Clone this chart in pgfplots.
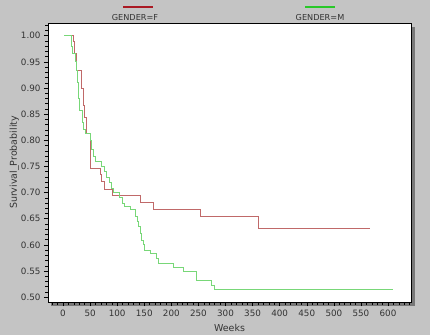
\documentclass[border=0pt]{standalone}
\usepackage{pgfplots}
\pgfplotsset{compat=1.18}
\usepackage{fontspec}
\setmainfont{DejaVu Sans}
\definecolor{bggray}{RGB}{196,196,196}
\definecolor{shadowgray}{RGB}{120,120,120}
\definecolor{fred}{RGB}{192,105,105}
\definecolor{mgreen}{RGB}{120,215,120}
\definecolor{legred}{RGB}{170,25,35}
\definecolor{leggreen}{RGB}{40,200,40}
\pgfplotstableread{
w v
3 1.0
19 0.989
21 0.967
24 0.933
34 0.900
37 0.867
40 0.843
43 0.813
51 0.746
69.5 0.734
71 0.721
76 0.706
91 0.694
142 0.681
167 0.667
254 0.654
361 0.632
567 0.632
}\dataF
\pgfplotstableread{
w v
2 1.0
15 0.98
18 0.967
22 0.95
24 0.933
27 0.91
29 0.88
31 0.858
35 0.835
38 0.82
42 0.813
50 0.80
53 0.782
56 0.77
59 0.759
70 0.75
76 0.74
81 0.73
85 0.72
90 0.708
93 0.70
105 0.69
110 0.68
114 0.673
124 0.667
133 0.654
137 0.645
139 0.635
142 0.622
145 0.609
148 0.60
151 0.59
161 0.583
173 0.574
176 0.565
204 0.557
222 0.549
247 0.532
274 0.523
279 0.514
610 0.514
}\dataM
\begin{document}
\begin{tikzpicture}[x=1bp,y=1bp]
\fill[bggray] (0,0) rectangle (430,335);
\fill[shadowgray] (51,29) rectangle (415,308);
\begin{axis}[
  at={(48bp,33bp)}, anchor=south west,
  scale only axis, width=363bp, height=279bp,
  xmin=-27.7, xmax=642.4, ymin=0.4908, ymax=1.0243,
  axis background/.style={fill=white},
  axis line style={black, line width=0.6bp},
  xtick={0,50,...,600},
  minor xtick={-20,-10,...,640},
  ytick={0.50,0.55,...,1.00},
  minor ytick={0.49,0.50,...,1.02},
  xtick pos=bottom, ytick pos=left,
  tick align=outside,
  major tick length=4bp, minor tick length=2.5bp,
  tick style={black, line width=0.5bp},
  /pgf/number format/assume math mode=true,
  yticklabel style={/pgf/number format/.cd, fixed, fixed zerofill, precision=2},
  xticklabel style={/pgf/number format/.cd, fixed, precision=0},
  ticklabel style={font=\fontsize{8.8}{10}\selectfont, text=black!80},
  xlabel={Weeks}, ylabel={Survival\_Probability},
  label style={font=\fontsize{9.5}{11}\selectfont, text=black!80},
  xlabel style={yshift=-1bp},
  ylabel style={yshift=-5bp},
]
\addplot[const plot, fred, line width=0.8bp, mark=none] table[x=w,y=v] {\dataF};
\addplot[const plot, mgreen, line width=0.8bp, mark=none] table[x=w,y=v] {\dataM};
\end{axis}
\draw[legred, line width=2bp] (123,328) -- (153,328);
\node[font=\fontsize{8.2}{9}\selectfont, text=black!80] at (135,317.5) {GENDER=F};
\draw[leggreen, line width=2bp] (305,328) -- (335,328);
\node[font=\fontsize{8.2}{9}\selectfont, text=black!80] at (320,317.5) {GENDER=M};
\pgfresetboundingbox
\useasboundingbox (0,0) rectangle (430,335);
\end{tikzpicture}
\end{document}
